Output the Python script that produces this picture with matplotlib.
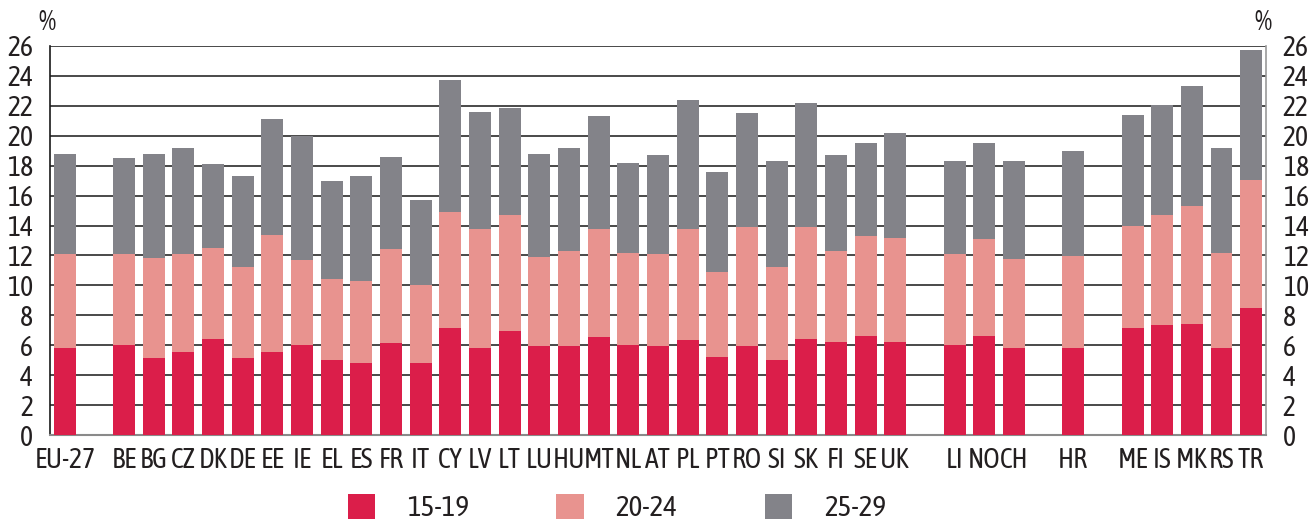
import matplotlib
matplotlib.use("Agg")
import matplotlib.pyplot as plt
from matplotlib.patches import Patch
import numpy as np

plt.rcParams['font.family'] = ['Asap Condensed', 'DejaVu Sans']

countries = ["EU-27", "",
             "BE", "BG", "CZ", "DK", "DE", "EE", "IE", "EL", "ES", "FR", "IT", "CY", "LV",
             "LT", "LU", "HU", "MT", "NL", "AT", "PL", "PT", "RO", "SI", "SK", "FI", "SE", "UK", "",
             "LI", "NO", "CH", "",
             "HR", "",
             "ME", "IS", "MK", "RS", "TR"]

# cumulative tops (None for gaps)
top_15_19 = [5.8, None,
             6.0, 5.15, 5.55, 6.4, 5.15, 5.55, 6.0, 5.0, 4.8, 6.15, 4.8, 7.15, 5.8,
             6.95, 5.95, 5.95, 6.55, 6.0, 5.95, 6.35, 5.2, 5.95, 5.0, 6.4, 6.2, 6.6, 6.2, None,
             6.0, 6.6, 5.8, None,
             5.8, None,
             7.15, 7.35, 7.4, 5.8, 8.5]
top_20_24 = [12.1, None,
             12.1, 11.85, 12.1, 12.5, 11.25, 13.4, 11.7, 10.45, 10.3, 12.4, 10.05, 14.9, 13.75,
             14.7, 11.9, 12.3, 13.8, 12.15, 12.1, 13.8, 10.9, 13.9, 11.25, 13.9, 12.3, 13.3, 13.15, None,
             12.1, 13.1, 11.75, None,
             11.95, None,
             14.0, 14.7, 15.3, 12.15, 17.05]
top_25_29 = [18.8, None,
             18.5, 18.8, 19.2, 18.1, 17.3, 21.1, 20.0, 16.95, 17.3, 18.6, 15.7, 23.7, 21.6,
             21.85, 18.8, 19.2, 21.35, 18.2, 18.7, 22.4, 17.6, 21.5, 18.3, 22.2, 18.7, 19.5, 20.2, None,
             18.3, 19.5, 18.3, None,
             19.0, None,
             21.4, 22.05, 23.3, 19.2, 25.75]

series = ["15-19", "20-24", "25-29"]
colors = ["#DB1E4A", "#E8938F", "#838389"]
txt = "#231f20"

fig = plt.figure(figsize=(13.15, 5.23), dpi=100)
ax = fig.add_axes([50/1315, 1-435/523, (1266-50)/1315, (435-46)/523])

x = np.arange(len(countries))
def clean(a):
    return np.array([np.nan if v is None else v for v in a], dtype=float)
t1, t2, t3 = clean(top_15_19), clean(top_20_24), clean(top_25_29)
s1 = t1
s2 = t2 - t1
s3 = t3 - t2
w = 0.74
ax.bar(x, s1, w, color=colors[0], zorder=3)
ax.bar(x, s2, w, bottom=s1, color=colors[1], zorder=3)
ax.bar(x, s3, w, bottom=t2, color=colors[2], zorder=3)

ax.set_xlim(-0.5, len(countries) - 0.5)
ax.set_ylim(0, 26)
ax.set_yticks(np.arange(0, 27, 2))
ax.yaxis.grid(True, color="#2a2a2a", linewidth=1.2, zorder=1)
ax.set_axisbelow(True)

ax.set_xticks(x)
ax.set_xticklabels(countries, fontsize=20, color=txt)
ax.tick_params(axis='x', length=0, pad=9)
ax.tick_params(axis='y', length=0, pad=12, labelsize=20, labelcolor=txt,
               left=True, right=True, labelleft=True, labelright=True)

ax.spines['top'].set_visible(False)
ax.spines['left'].set_color("#1a1a1a")
ax.spines['left'].set_linewidth(1.2)
ax.spines['right'].set_color("#9a9a9a")
ax.spines['right'].set_linewidth(1.2)
ax.spines['bottom'].set_color("#8a8a8a")
ax.spines['bottom'].set_linewidth(1.5)

fig.text(47/1315, 1-22/523, "%", fontsize=20, color=txt, ha="center", va="center")
fig.text(1263/1315, 1-22/523, "%", fontsize=20, color=txt, ha="center", va="center")

handles = [Patch(facecolor=c, edgecolor='none', label=s) for c, s in zip(colors, series)]
leg = fig.legend(handles=handles, loc="center", bbox_to_anchor=(617/1315, 1-508/523),
                 ncol=3, frameon=False, fontsize=21, handlelength=0.93, handleheight=0.93,
                 handletextpad=1.1, columnspacing=3.0, borderpad=0, borderaxespad=0)
for t in leg.get_texts():
    t.set_color(txt)

fig.savefig("out.png", dpi=100)
